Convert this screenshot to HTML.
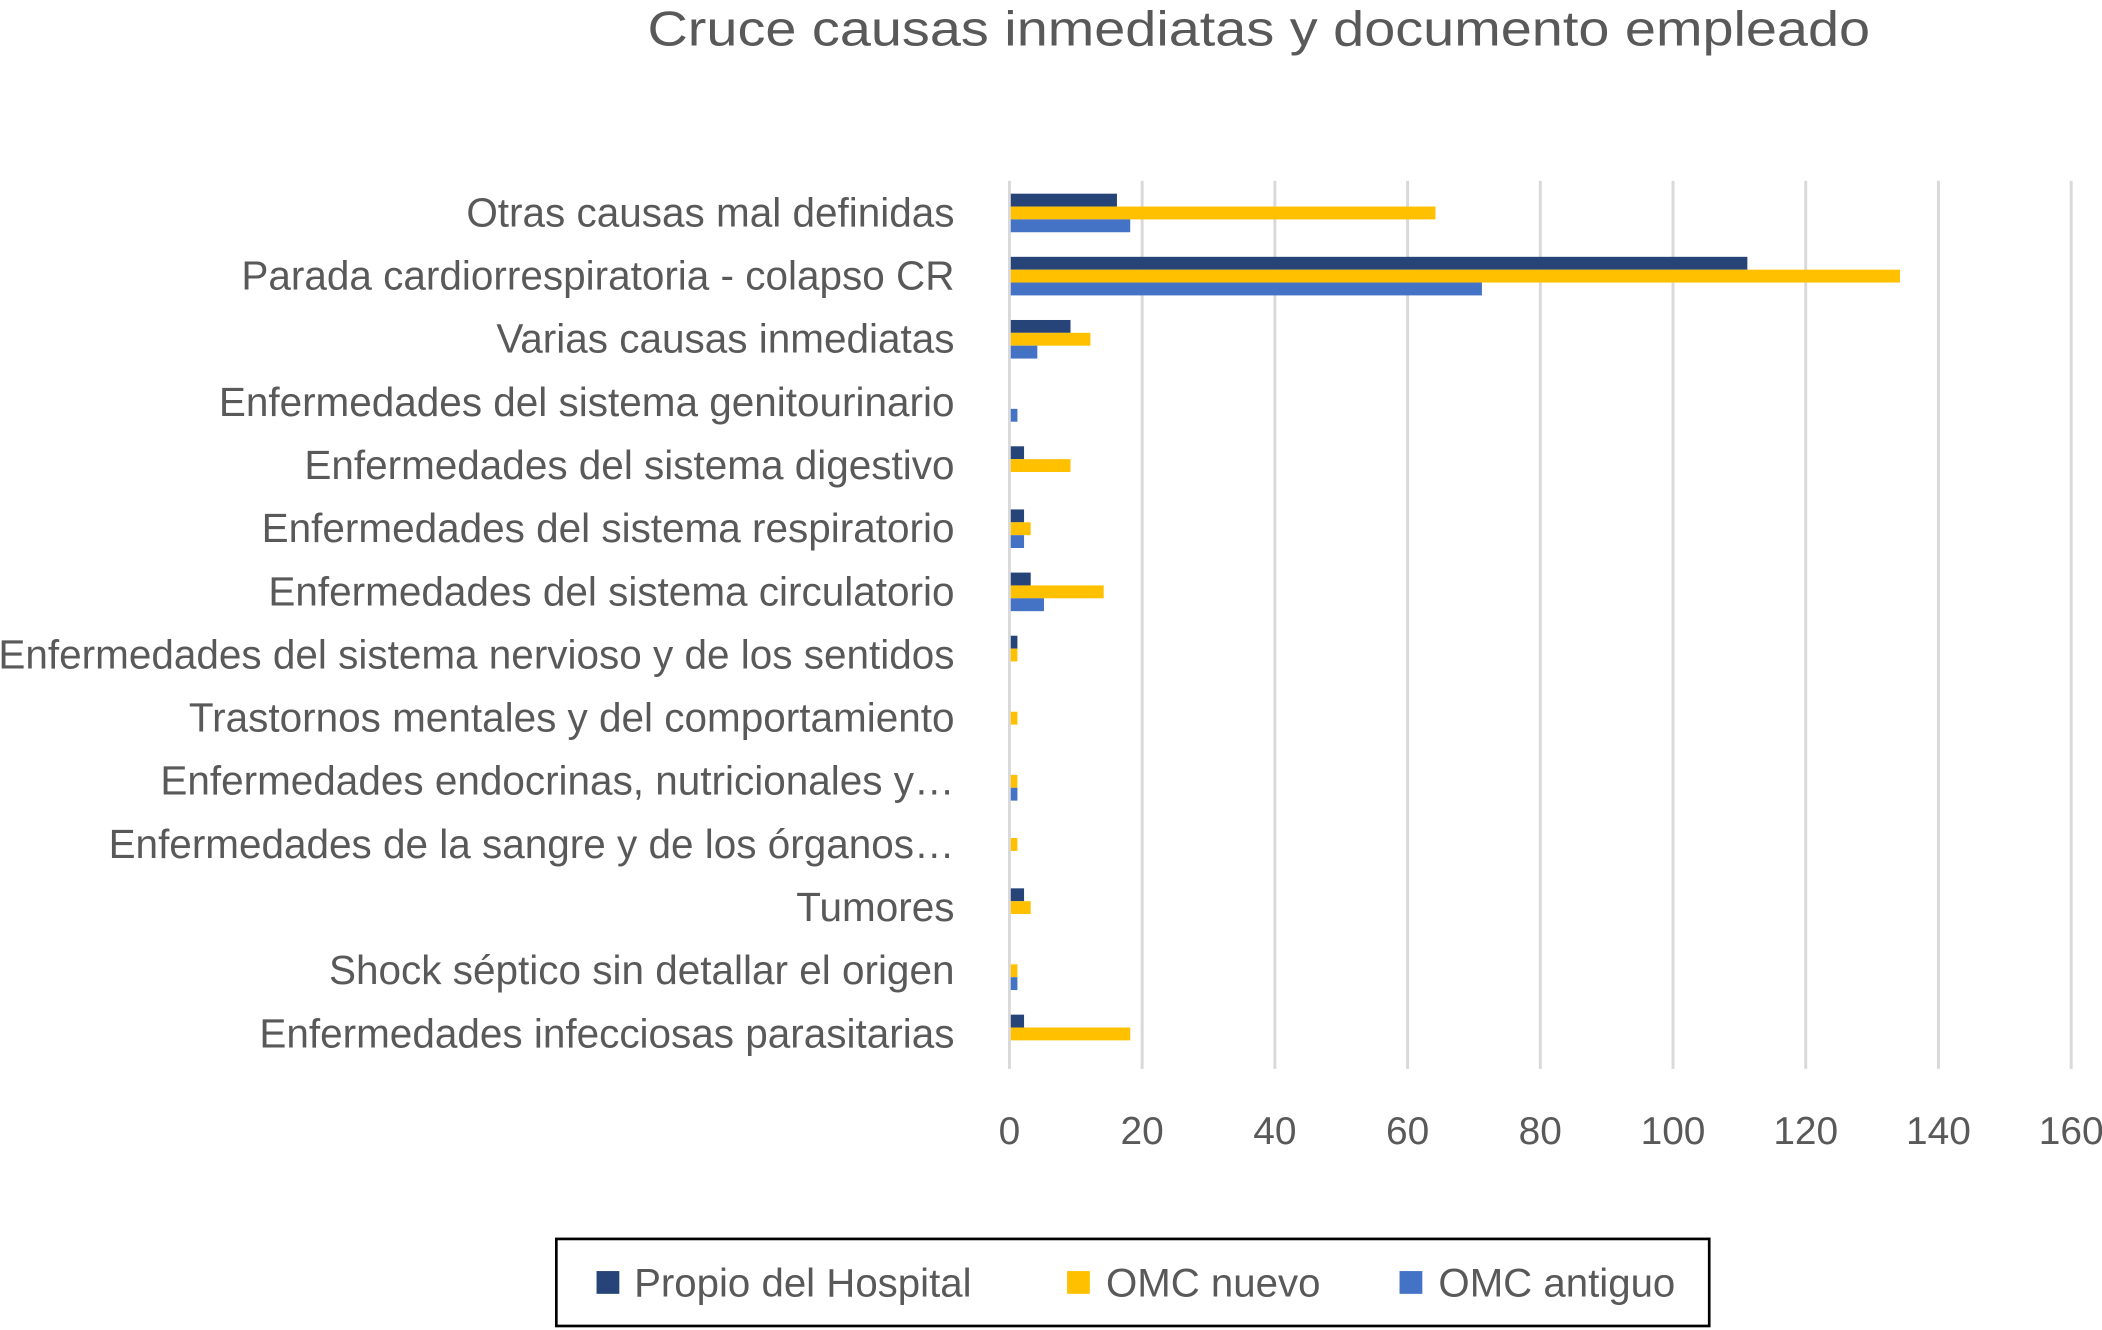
<!DOCTYPE html>
<html><head><meta charset="utf-8"><style>
html,body{margin:0;padding:0;background:#fff;}
svg{display:block;font-family:"Liberation Sans",sans-serif;}
</style></head><body>
<svg id="chart" width="2102" height="1330" viewBox="0 0 1568 993" preserveAspectRatio="none" xmlns="http://www.w3.org/2000/svg">
<text x="939" y="34" text-anchor="middle" font-size="37" fill="#595959" textLength="912" lengthAdjust="spacingAndGlyphs">Cruce causas inmediatas y documento empleado</text>
<g id="grid"></g><g id="bars"></g><g id="labels"></g><g id="ticks"></g>
<g>
<rect x="415" y="925" width="860" height="65" fill="#fff" stroke="#000" stroke-width="2"/>
<rect x="445" y="949" width="17" height="17" fill="#264478"/>
<text x="473" y="968" font-size="30" fill="#595959">Propio del Hospital</text>
<rect x="796" y="949" width="17" height="17" fill="#FFC000"/>
<text x="825" y="968" font-size="30" fill="#595959">OMC nuevo</text>
<rect x="1044" y="949" width="17" height="17" fill="#4472C4"/>
<text x="1073" y="968" font-size="30" fill="#595959">OMC antiguo</text>
</g>
</svg>
<script>
const categories = ["Otras causas mal definidas","Parada cardiorrespiratoria - colapso CR","Varias causas inmediatas","Enfermedades del sistema genitourinario","Enfermedades del sistema digestivo","Enfermedades del sistema respiratorio","Enfermedades del sistema circulatorio","Enfermedades del sistema nervioso y de los sentidos","Trastornos mentales y del comportamiento","Enfermedades endocrinas, nutricionales y…","Enfermedades de la sangre y de los órganos…","Tumores","Shock séptico sin detallar el origen","Enfermedades infecciosas parasitarias"];
const propio = [16,111,9,0,2,2,3,1,0,0,0,2,0,2];
const omcNuevo = [64,134,12,0,9,3,14,1,1,1,1,3,1,18];
const omcAntiguo = [18,71,4,1,0,2,5,0,0,1,0,0,1,0];
const tickValues = [0,20,40,60,80,100,120,140,160];

const NS="http://www.w3.org/2000/svg";
const X0=753, X1=1545, VMAX=160, Y0=159, STEP=47.15, BH=9.6;
function xs(v){return X0+(X1-X0)*v/VMAX;}
function yc(i){return Y0+STEP*i;}
function mk(tag,attrs,parent){const e=document.createElementNS(NS,tag);for(const k in attrs)e.setAttribute(k,attrs[k]);parent.appendChild(e);return e;}
const grid=document.getElementById('grid'),bars=document.getElementById('bars'),labels=document.getElementById('labels'),ticks=document.getElementById('ticks');
tickValues.forEach(v=>{
  const l=mk('line',{x1:xs(v),x2:xs(v),y1:135,y2:798,stroke:'#d9d9d9','stroke-width':2.2},grid);
  
  
  const t=mk('text',{x:xs(v),y:854,'text-anchor':'middle','font-size':29,fill:'#595959'},ticks);
  t.textContent=v;
  
  
});
const series=[[propio,'#264478','propio'],[omcNuevo,'#FFC000','omc-nuevo'],[omcAntiguo,'#4472C4','omc-antiguo']];
categories.forEach((c,i)=>{
  const t=mk('text',{x:712,y:yc(i)+10,'text-anchor':'end','font-size':30.2,fill:'#595959'},labels);
  t.textContent=c;
  
  
  series.forEach((s,j)=>{
    const v=s[0][i]; if(!v) return;
    const r=mk('rect',{x:xs(0)+1,y:yc(i)+(j-1.5)*BH,width:xs(v)-xs(0),height:BH,fill:s[1]},bars);
    
    
  });
});
</script>
</body></html>
